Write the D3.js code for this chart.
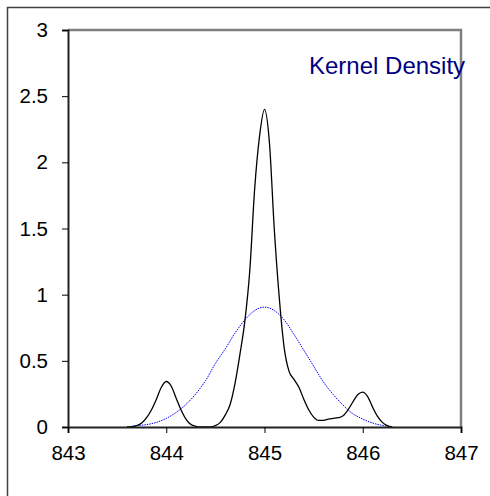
<!DOCTYPE html>
<html>
<head>
<meta charset="utf-8">
<script src="https://cdn.jsdelivr.net/npm/d3@7"></script>
<style>
  body { margin: 0; background: #fff; }
  svg { display: block; font-family: "Liberation Sans", Arial, sans-serif; }
</style>
</head>
<body>
<svg id="chart" width="490" height="496"></svg>
<script>
// black curve: kernel density
var kdeX = [843.60, 843.65, 843.70, 843.75, 843.80, 843.85, 843.90, 843.95, 844.00, 844.05,
            844.10, 844.15, 844.20, 844.25, 844.30, 844.35, 844.40, 844.45, 844.50, 844.55,
            844.60, 844.65, 844.70, 844.75, 844.80, 844.85, 844.90, 844.95, 845.00, 845.05,
            845.10, 845.15, 845.20, 845.25, 845.30, 845.35, 845.40, 845.45, 845.50, 845.55,
            845.60, 845.65, 845.70, 845.75, 845.80, 845.85, 845.90, 845.95, 846.00, 846.05,
            846.10, 846.15, 846.20, 846.25, 846.30];
var kdeY = [0, 0.002, 0.01, 0.03, 0.07, 0.13, 0.21, 0.30, 0.344, 0.31,
            0.22, 0.13, 0.06, 0.02, 0.005, 0, 0, 0, 0.01, 0.035,
            0.09, 0.17, 0.33, 0.55, 0.80, 1.18, 1.80, 2.20, 2.40, 2.15,
            1.49, 0.98, 0.60, 0.42, 0.36, 0.30, 0.21, 0.13, 0.075, 0.05,
            0.05, 0.06, 0.065, 0.07, 0.085, 0.13, 0.19, 0.245, 0.264, 0.23,
            0.15, 0.08, 0.035, 0.01, 0];

// blue dotted curve: normal fit
var normX = [843.6, 843.7, 843.8, 843.9, 844.0, 844.1, 844.2, 844.3, 844.4, 844.5,
             844.6, 844.7, 844.8, 844.9, 845.0, 845.1, 845.2, 845.3, 845.4, 845.5,
             845.6, 845.7, 845.8, 845.9, 846.0, 846.1, 846.2, 846.3];
var normY = [0, 0.01, 0.018, 0.035, 0.065, 0.11, 0.17, 0.25, 0.35, 0.48,
             0.59, 0.71, 0.81, 0.88, 0.906, 0.88, 0.81, 0.70, 0.58, 0.46,
             0.34, 0.245, 0.165, 0.10, 0.06, 0.03, 0.012, 0];

var xTicks = [843, 844, 845, 846, 847];
var yTicks = [0, 0.5, 1, 1.5, 2, 2.5, 3];
var label = "Kernel Density";

var svg = d3.select("#chart");
var margin = {top: 30, left: 68},
    width = 393, height = 397;

// outer frame (only top and left edges fall inside the picture)
svg.append("rect")
    .attr("x", 7.5).attr("y", 7.5)
    .attr("width", 500).attr("height", 500)
    .attr("fill", "none")
    .attr("stroke", "#404040")
    .attr("stroke-width", 1.5);

var g = svg.append("g").attr("transform", "translate(" + margin.left + "," + margin.top + ")");

var x = d3.scaleLinear().domain([843, 847]).range([0, width]);
var y = d3.scaleLinear().domain([0, 3]).range([height, 0]);

// grey top/right border of the plot area
g.append("path")
    .attr("d", "M0,0H" + width + "V" + height)
    .attr("fill", "none")
    .attr("stroke", "#808080")
    .attr("stroke-width", 2.5);

var line = d3.line()
    .x(function(d) { return x(d[0]); })
    .y(function(d) { return y(d[1]); })
    .curve(d3.curveMonotoneX);

g.append("path")
    .datum(d3.zip(normX, normY))
    .attr("d", line)
    .attr("fill", "none")
    .attr("stroke", "#0000ff")
    .attr("stroke-width", 1)
    .attr("stroke-dasharray", "1.5,1");

g.append("path")
    .datum(d3.zip(kdeX, kdeY))
    .attr("d", line)
    .attr("fill", "none")
    .attr("stroke", "#000")
    .attr("stroke-width", 1.3);

var yAxis = g.append("g")
    .call(d3.axisLeft(y).tickValues(yTicks).tickSize(6).tickPadding(14)
        .tickFormat(function(d) { return String(d); }));
var xAxis = g.append("g")
    .attr("transform", "translate(0," + height + ")")
    .call(d3.axisBottom(x).tickValues(xTicks).tickSize(6).tickPadding(12)
        .tickFormat(d3.format("d")));

[yAxis, xAxis].forEach(function(a) {
    a.select(".domain").attr("stroke", "#222").attr("stroke-width", 2);
    a.selectAll(".tick line").attr("stroke", "#000");
    a.selectAll(".tick text")
        .attr("fill", "#000")
        .style("font-size", "20.5px")
        .style("font-family", "'Liberation Sans', Arial, sans-serif");
});

svg.append("text")
    .attr("x", 309).attr("y", 74)
    .attr("fill", "#000080")
    .style("font-size", "24px")
    .text(label);
</script>
</body>
</html>
